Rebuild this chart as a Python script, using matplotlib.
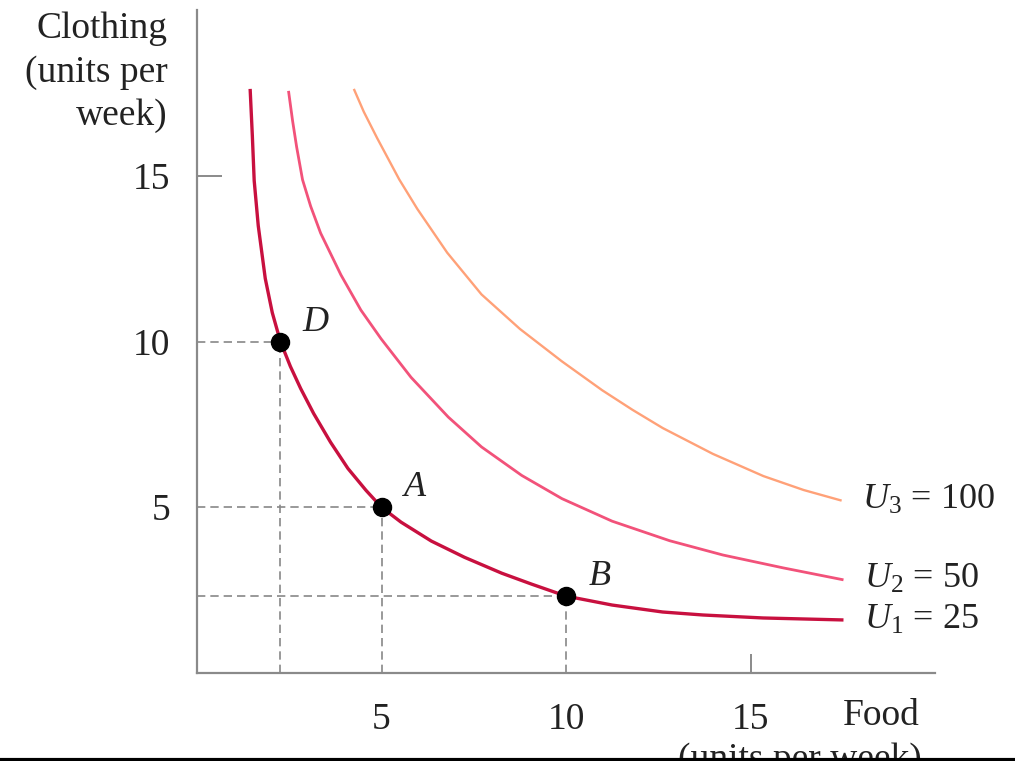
import matplotlib
matplotlib.use('Agg')
import matplotlib.pyplot as plt
from matplotlib.lines import Line2D

# Curve points (food, clothing)
u1_food = [1.44, 1.50, 1.55, 1.66, 1.85, 2.04, 2.26, 2.53, 2.81, 3.16, 3.62, 4.09, 4.58, 5.0,
           5.53, 6.35, 7.25, 8.26, 9.07, 10.0, 11.25, 12.62, 13.71, 15.34, 17.52]
u1_clothing = [17.62, 16.20, 14.85, 13.49, 11.90, 10.87, 10.0, 9.25, 8.58, 7.83, 6.96, 6.17, 5.51, 5.0,
               4.55, 3.98, 3.49, 3.01, 2.68, 2.32, 2.05, 1.84, 1.75, 1.66, 1.60]

u2_food = [2.48, 2.59, 2.70, 2.86, 3.08, 3.35, 3.90, 4.44, 4.99, 5.80, 6.81, 7.71, 8.80, 9.89,
           11.25, 12.81, 14.25, 15.89, 17.52]
u2_clothing = [17.56, 16.66, 15.87, 14.88, 14.08, 13.27, 12.01, 10.95, 10.08, 8.92, 7.72, 6.82, 5.96, 5.26,
               4.58, 3.99, 3.56, 3.17, 2.81]

u3_food = [4.25, 4.52, 4.88, 5.48, 5.97, 6.78, 7.71, 8.75, 9.89, 10.98, 11.80, 12.62, 13.98, 15.35,
           16.44, 17.47]
u3_clothing = [17.62, 16.93, 16.14, 14.89, 14.0, 12.68, 11.42, 10.38, 9.40, 8.53, 7.94, 7.39, 6.61, 5.94,
               5.52, 5.20]

curve_labels = [r'$U_1$ = 25', r'$U_2$ = 50', r'$U_3$ = 100']

# Market baskets marked on U1
point_names = ['D', 'A', 'B']
point_food = [2.26, 5.0, 10.0]
point_clothing = [10.0, 5.0, 2.32]

ticks = [5, 10, 15]

# Fonts
plt.rcParams['font.family'] = 'Liberation Serif'
plt.rcParams['mathtext.fontset'] = 'custom'
plt.rcParams['mathtext.rm'] = 'Liberation Serif'
plt.rcParams['mathtext.it'] = 'Liberation Serif:italic'

fig = plt.figure(figsize=(10.15, 7.61), dpi=100)
ax = fig.add_axes([197 / 1015, 88 / 761, 738 / 1015, 663 / 761])
ax.set_xlim(0, 20)
ax.set_ylim(0, 20)

# Indifference curves
colors = ['#c8103f', '#f2527a', '#ffa178']
widths = [2.4, 2.0, 1.7]
curves = [(u1_food, u1_clothing), (u2_food, u2_clothing), (u3_food, u3_clothing)]
for (fx, cy), c, w, lab in zip(curves, colors, widths, curve_labels):
    ax.plot(fx, cy, color=c, lw=w, solid_capstyle='butt', solid_joinstyle='round', zorder=3)
    ax.annotate(lab, (fx[-1], cy[-1]), xytext=(15, 0), textcoords='offset points',
                va='center', ha='left', fontsize=26, color='#222222')

# Dashed guide lines and points
for name, fx, cy in zip(point_names, point_food, point_clothing):
    ax.plot([0, fx], [cy, cy], color='#888888', lw=1.2, ls=(0, (5, 3)), zorder=2)
    ax.plot([fx, fx], [0, cy], color='#888888', lw=1.2, ls=(0, (5, 3)), zorder=2)
    ax.plot(fx, cy, 'o', color='black', ms=13, zorder=4)
    ax.annotate(name, (fx, cy), xytext=(16, 14), textcoords='offset points',
                va='center', ha='left', fontsize=26, style='italic', color='#222222')

# Axes styling
for s in ['top', 'right']:
    ax.spines[s].set_visible(False)
for s in ['left', 'bottom']:
    ax.spines[s].set_color('#8a8a8a')
    ax.spines[s].set_linewidth(1.6)

ax.set_xticks(ticks)
ax.set_yticks(ticks)
ax.set_xticklabels([str(t) for t in ticks])
ax.set_yticklabels([str(t) for t in ticks])
ax.tick_params(axis='both', length=0, labelsize=27, labelcolor='#222222')
ax.tick_params(axis='x', pad=21)
ax.tick_params(axis='y', pad=19)

# Short inward ticks at 15 only
ax.xaxis.remove_overlapping_locs = False
ax.yaxis.remove_overlapping_locs = False
ax.set_xticks([15], minor=True)
ax.set_yticks([15], minor=True)
ax.tick_params(which='minor', direction='in', color='#8a8a8a', width=1.4)
ax.tick_params(axis='x', which='minor', length=14)
ax.tick_params(axis='y', which='minor', length=18)

# Axis titles
fig.text(168 / 1015, 1 - 12 / 761, 'Clothing\n(units per\nweek)', ha='right', va='top',
         fontsize=27, color='#222222', linespacing=1.33)
ax.annotate('Food', (1, 0), xycoords='axes fraction', xytext=(-11, -31),
            textcoords='offset points', ha='right', va='center', fontsize=27, color='#222222')
fig.text(800 / 1015, 1 - 742 / 761, '(units per week)', ha='center', va='top',
         fontsize=27, color='#222222')

# Black rule along the bottom edge
fig.add_artist(Line2D([0, 1], [1.5 / 761, 1.5 / 761], color='black', lw=3,
                      transform=fig.transFigure, zorder=10))

plt.savefig('out.png', dpi=100)
